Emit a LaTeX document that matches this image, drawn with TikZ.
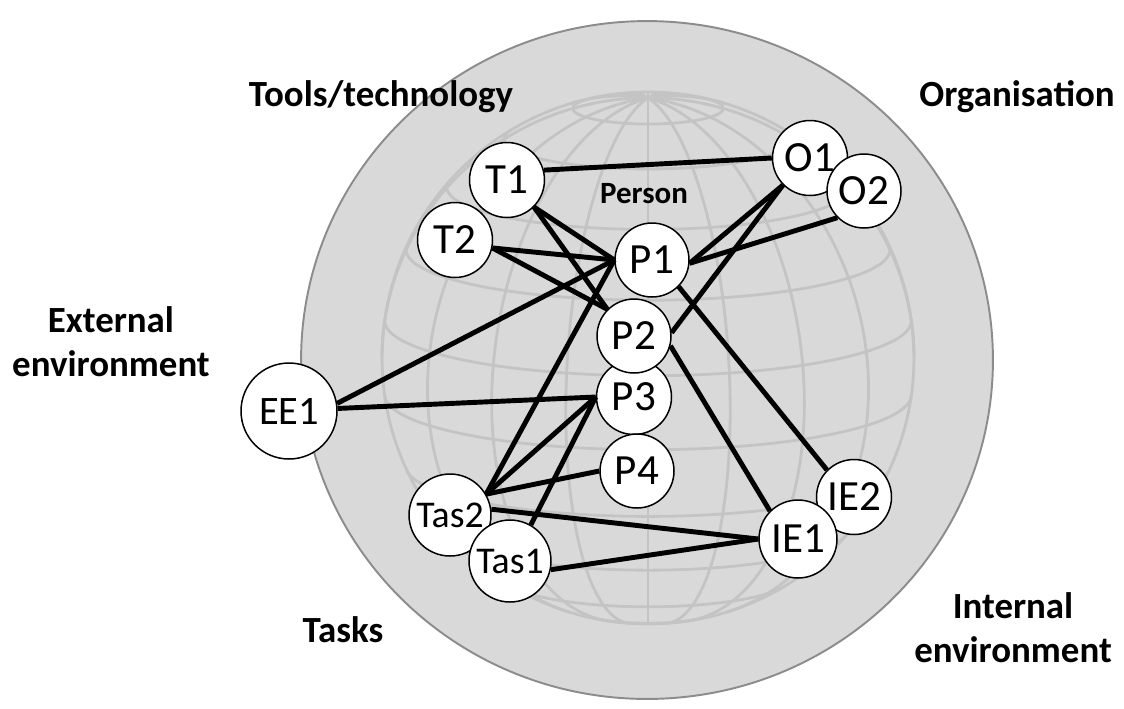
\documentclass[tikz,border=0pt]{standalone}
\usepackage{fontspec}
\setmainfont{Carlito}
\definecolor{bggray}{HTML}{D9D9D9}
\definecolor{gridgray}{HTML}{C4C4C4}
\definecolor{rimgray}{HTML}{8C8C8C}
\begin{document}
\begin{tikzpicture}[x=0.02cm,y=-0.02cm,
  lab/.style={font=\bfseries\fontsize{21}{25}\selectfont, inner sep=0pt, align=center},
  nd/.style={circle, draw=black, line width=0.85pt, fill=white, inner sep=0pt,
    minimum size=1.5cm, font=\fontsize{24.5}{28}\selectfont},
  small/.style={font=\fontsize{21.5}{24}\selectfont},
  link/.style={line width=2.8pt, black},
  grid/.style={draw=gridgray, line width=1.6pt},
]
\useasboundingbox (0,0) rectangle (1124,708);
% outer disk
\draw[draw=rimgray, fill=bggray, line width=1.1pt] (647,360) ellipse[x radius=6.92cm, y radius=6.78cm];
% globe
\def\gcx{648}\def\gcy{358}\def\gR{266}\def\tilt{12}
\foreach \L in {8.18,24.55,40.9,57.3,73.6,-8.18,-24.55,-40.9,-57.3,-73.6}{
  \pgfmathsetmacro\tm{acos(-tan(\L)*tan(\tilt))}
  \draw[grid] plot[domain=-\tm:\tm, samples=90, smooth, variable=\t]
    ({\gcx + \gR*cos(\L)*sin(\t)}, {\gcy - \gR*sin(\L)*cos(\tilt) + \gR*cos(\L)*cos(\t)*sin(\tilt)});
}
\foreach \lam in {0,18,36,56,90,124,144,162,180,-18,-36,-56,-90,-124,-144,-162}{
  \pgfmathsetmacro\pmin{atan2(sin(\tilt), cos(\lam)*cos(\tilt)) - 90}
  \draw[grid] plot[domain=\pmin:90, samples=90, smooth, variable=\p]
    ({\gcx + \gR*cos(\p)*sin(\lam)}, {\gcy - \gR*sin(\p)*cos(\tilt) + \gR*cos(\p)*cos(\lam)*sin(\tilt)});
}
\draw[grid] (\gcx,\gcy) circle[radius=5.32cm];

% labels
\node[lab, anchor=base] (ltools) at (381,106) {Tools/technology};
\node[lab, anchor=base] (lorg) at (1017,106) {Organisation};
\node[lab] (lext) at (111,342) {External\\environment};
\node[lab] (lint) at (1013,628) {Internal\\environment};
\node[lab, anchor=base] (ltasks) at (343,642) {Tasks};
\node[lab, anchor=base, font=\bfseries\fontsize{17.6}{20}\selectfont] (lperson) at (644,203) {Person};

% nodes (drawing order gives the overlaps)
\node[nd] (T2) at (455,240) {T2};
\node[nd] (T1) at (507,180) {T1};
\node[nd, minimum size=1.48cm] (P1) at (652,260) {P1};
\node[nd] (P3) at (634,397) {P3};
\node[nd, minimum size=1.48cm] (P2) at (634,336) {P2};
\node[nd, minimum size=1.48cm] (P4) at (637,471) {P4};
\node[nd, minimum size=1.92cm, font=\fontsize{23}{27}\selectfont] (EE1) at (289,411) {EE1};
\node[nd, minimum size=1.64cm, small] (Tas2) at (450,515) {Tas2};
\node[nd, minimum size=1.64cm, small] (Tas1) at (510,561) {Tas1};
\node[nd] (O1) at (810,158) {O1};
\node[nd, minimum size=1.48cm] (O2) at (864,191) {O2};
\node[nd] (IE2) at (854,497) {IE2};
\node[nd, minimum size=1.56cm] (IE1) at (798,539) {IE1};

% connectors
\draw[link] (T1.15) -- (O1.west);
\draw[link] (T1.south east) -- (P1.west);
\draw[link] (T1.south east) -- (P2.north west);
\draw[link] (T2.-12) -- (P1.west);
\draw[link] (T2.-12) -- (P2.north west);
\draw[link] (EE1.9) -- (P1.west);
\draw[link] (EE1.3) -- (P3.west);
\draw[link] (Tas2.30) -- (P1.west);
\draw[link] (Tas2.30) -- (P3.west);
\draw[link] (Tas2.30) -- (P4.west);
\draw[link] (Tas2.8) -- (IE1.west);
\draw[link] (Tas1.60) -- (P3.west);
\draw[link] (Tas1.-12) -- (IE1.west);
\draw[link] (P1.-5) -- (O1.south west);
\draw[link] (P1.-5) -- (O2.south west);
\draw[link] (P1.south east) -- (IE2.north west);
\draw[link] (P2.5) -- (O1.south west);
\draw[link] (P2.-15) -- (IE1.north west);
\end{tikzpicture}
\end{document}
